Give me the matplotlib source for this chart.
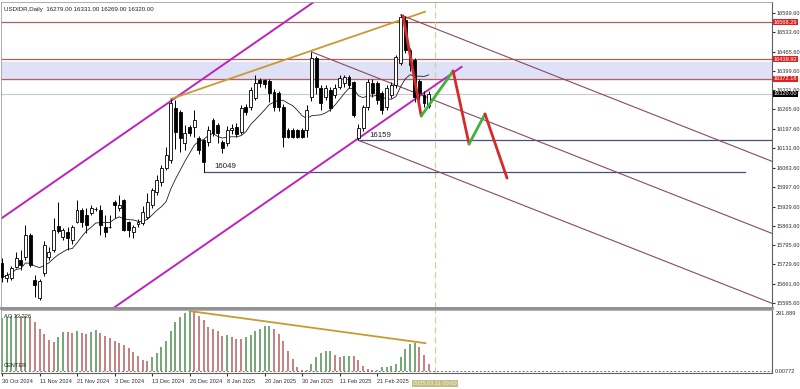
import numpy as np
import pandas as pd
import matplotlib
matplotlib.use("Agg")
import matplotlib.pyplot as plt
from matplotlib import font_manager

# --- Veriler (grafikten okunan yaklaşık değerler) ---
title = "USDIDR,Daily  16279.00 16331.00 16269.00 16320.00"

date_ticks = [0, 8, 16, 24, 32, 40, 48, 56, 64, 72, 80]
date_labels = ["30 Oct 2024", "11 Nov 2024", "21 Nov 2024", "3 Dec 2024", "13 Dec 2024",
               "26 Dec 2024", "8 Jan 2025", "20 Jan 2025", "30 Jan 2025", "11 Feb 2025",
               "21 Feb 2025"]
cursor_bar = 92.3
cursor_label = "2025.03.11 00:00"

opens = [15734, 15683, 15682, 15720, 15745, 15755, 15831, 15675, 15613, 15700,
         15755, 15779, 15862, 15824, 15841, 15814, 15876, 15918, 15900, 15907,
         15921, 15918, 15858, 15859, 15945, 15924, 15952, 15876, 15841, 15870,
         15872, 15893, 15935, 15980, 16014, 16063, 16091, 16271, 16257, 16150,
         16205, 16205, 16167, 16160, 16153, 16229, 16212, 16153, 16150, 16195,
         16205, 16188, 16274, 16274, 16305, 16368, 16368, 16365, 16326, 16322,
         16274, 16195, 16195, 16194, 16195, 16194, 16309, 16444, 16340, 16309,
         16333, 16315, 16343, 16357, 16378, 16360, 16167, 16201, 16274, 16357,
         16357, 16323, 16274, 16315, 16350, 16426, 16575, 16470, 16437, 16365,
         16316, 16279]
highs = [15751, 15703, 15723, 15772, 15780, 15865, 15838, 15692, 15680, 15810,
         15790, 15890, 15945, 15855, 15858, 15865, 15952, 15925, 15925, 15935,
         15928, 15935, 15900, 15900, 15952, 15970, 15955, 15880, 15865, 15885,
         15930, 15975, 15995, 16040, 16075, 16135, 16302, 16298, 16265, 16212,
         16212, 16265, 16175, 16165, 16210, 16235, 16220, 16160, 16210, 16215,
         16220, 16280, 16285, 16345, 16385, 16375, 16372, 16370, 16335, 16330,
         16285, 16200, 16200, 16199, 16200, 16280, 16465, 16450, 16350, 16350,
         16345, 16355, 16385, 16385, 16385, 16365, 16215, 16280, 16370, 16370,
         16365, 16330, 16350, 16360, 16455, 16595, 16590, 16480, 16445, 16372,
         16330, 16331]
lows = [15668, 15668, 15675, 15717, 15710, 15745, 15720, 15616, 15606, 15690,
        15745, 15772, 15838, 15815, 15779, 15800, 15872, 15860, 15838, 15900,
        15915, 15830, 15824, 15855, 15890, 15915, 15845, 15824, 15820, 15860,
        15865, 15885, 15925, 15970, 16000, 16055, 16080, 16130, 16118, 16125,
        16175, 16170, 16110, 16049, 16140, 16175, 16150, 16115, 16140, 16180,
        16170, 16180, 16245, 16265, 16300, 16345, 16340, 16290, 16260, 16260,
        16136, 16168, 16168, 16168, 16168, 16172, 16295, 16320, 16265, 16300,
        16260, 16305, 16335, 16345, 16340, 16240, 16159, 16190, 16265, 16310,
        16285, 16250, 16265, 16305, 16340, 16420, 16460, 16400, 16290, 16300,
        16275, 16269]
closes = [15686, 15693, 15717, 15751, 15727, 15831, 15727, 15658, 15672, 15796,
          15772, 15848, 15845, 15848, 15820, 15858, 15918, 15876, 15866, 15925,
          15920, 15866, 15841, 15857, 15935, 15935, 15848, 15848, 15858, 15876,
          15911, 15945, 15987, 16021, 16063, 16108, 16288, 16188, 16167, 16184,
          16184, 16229, 16125, 16084, 16194, 16184, 16184, 16132, 16194, 16202,
          16181, 16271, 16257, 16333, 16357, 16357, 16355, 16322, 16274, 16274,
          16170, 16172, 16172, 16172, 16172, 16264, 16444, 16343, 16288, 16340,
          16271, 16340, 16374, 16378, 16350, 16247, 16201, 16274, 16360, 16323,
          16298, 16264, 16340, 16350, 16447, 16586, 16472, 16420, 16309, 16323,
          16288, 16320]

ao_values = [258, 264, 269, 272, 265, 269, 264, 236, 204, 180,
             151, 139, 167, 188, 187, 186, 193, 183, 180, 188,
             199, 183, 168, 160, 147, 134, 128, 110, 91, 74,
             53, 47, 66, 86, 118, 144, 193, 236, 261, 282,
             291, 286, 269, 248, 215, 204, 192, 172, 174, 167,
             156, 154, 167, 177, 193, 204, 217, 219, 204, 180,
             147, 99, 58, 21, 5, 3, 34, 66, 86, 96,
             98, 79, 70, 72, 74, 73, 54, 26, 10, 5,
             3, 18, 21, 26, 34, 66, 107, 131, 134, 118,
             79, 33.226]

price_ticks = [16599.6, 16533.6, 16465.6, 16399.6, 16331.6, 16265.6, 16197.6, 16131.6,
               16063.6, 15997.6, 15929.6, 15863.6, 15795.6, 15729.6, 15661.6, 15595.6]

# seviyeler ve çizimler (bar indeksi, fiyat)
red_levels = [16568.29, 16439.92, 16372.18]
zone = (16372.18, 16430)
last_price = 16320.00
support_lows = [(43, 16049, 158.4), (76, 16159, 164.2)]   # (başlangıç bar, fiyat, bitiş bar)
channel_upper = [(0, 15890), (98, 16992)]
channel_lower = [(0, 15311), (98, 16413)]
gold_line = [(36, 16302), (90.2, 16604)]
down_slope = -6.4
down_anchors = [(66, 16465), (85, 16593), (76, 16159)]
zig_x = [85.5, 89.4, 96.2, 99.6, 103.0, 107.7]
zig_y = [16590, 16243, 16399, 16146, 16250, 16028]
ao_div = [(40, 291), (90.3, 135)]

# küçük yazılar için dar font (yoksa Liberation Sans)
installed = {f.name for f in font_manager.fontManager.ttflist}
if "Liberation Sans Narrow" in installed:
    plt.rcParams["font.family"] = ["Liberation Sans Narrow", "DejaVu Sans"]
    fs = 4.9
else:
    plt.rcParams["font.family"] = ["Liberation Sans", "DejaVu Sans"]
    fs = 4.1

# --- Figür ---
fig = plt.figure(figsize=(8, 3.89), dpi=100)
ax = fig.add_axes([1/800, 1 - 308/389, 771/800, 306/389])
ax2 = fig.add_axes([1/800, 1 - 373/389, 771/800, 63/389])

xmin, xmax = -0.21, 164.2
n = len(closes)
idx = np.arange(n)
o = np.array(opens); c = np.array(closes)
h = np.array(highs); l = np.array(lows)

# bölge ve yatay çizgiler
ax.axhspan(zone[0], zone[1], color="#dfe1f6", zorder=0)
for lv in red_levels:
    ax.axhline(lv, color="#b06060", lw=0.9, zorder=1)
ax.axhline(last_price, color="#c8c8c8", lw=0.8, zorder=1)
for b0, p, b1 in support_lows:
    ax.plot([b0, b1], [p, p], color="#4a4a86", lw=0.9, zorder=2)
    ax.text(b0 + 2.3, p + 6, f"{p}", fontsize=fs + 1.6, color="#202020", va="bottom")

# kanal
for pts in (channel_upper, channel_lower):
    ax.plot([pts[0][0], pts[1][0]], [pts[0][1], pts[1][1]], color="#c020c0", lw=1.4, zorder=2)
ax.plot([gold_line[0][0], gold_line[1][0]], [gold_line[0][1], gold_line[1][1]],
        color="#c89a30", lw=1.3, zorder=2)
for b0, p in down_anchors:
    ax.plot([b0, xmax], [p, p + down_slope * (xmax - b0)], color="#8a4a5c", lw=0.8, zorder=2)

# mumlar
up = c >= o
ax.vlines(idx, l, h, color="black", lw=0.7, zorder=3)
body_lo = np.minimum(o, c)
body_h = np.maximum(np.abs(c - o), 1.5)
ax.bar(idx[up], body_h[up], bottom=body_lo[up], width=0.62, color="white",
       edgecolor="black", linewidth=0.6, zorder=4)
ax.bar(idx[~up], body_h[~up], bottom=body_lo[~up], width=0.62, color="black",
       edgecolor="black", linewidth=0.6, zorder=4)

# hareketli ortalama
ma = pd.Series(closes).rolling(10, min_periods=1).mean()
ax.plot(idx, ma, color="#202020", lw=0.6, zorder=3)

# zigzag projeksiyon
for i in range(len(zig_x) - 1):
    col = "#d42a2a" if zig_y[i + 1] < zig_y[i] else "#3cb43c"
    ax.plot(zig_x[i:i + 2], zig_y[i:i + 2], color=col, lw=2, zorder=5, solid_capstyle="round")

ax.axvline(cursor_bar, color="#cfcfa8", lw=0.9, ls=(0, (5, 3)), zorder=1)

ax.set_xlim(xmin, xmax)
ax.set_ylim(15578.3, 16637.7)
ax.yaxis.tick_right()
ax.set_yticks(price_ticks)
ax.set_yticklabels([f"{v:.2f}" for v in price_ticks])
ax.tick_params(axis="y", labelsize=fs, length=2, pad=1, colors="#303030")
ax.set_xticks([])
for s in ["left", "top"]:
    ax.spines[s].set_color("#a0a0a0")
    ax.spines[s].set_linewidth(0.6)
ax.spines["right"].set_color("#606060")
ax.spines["bottom"].set_color("#8c8c8c")
ax.spines["bottom"].set_linewidth(2)

ytr = ax.get_yaxis_transform()
for lv in red_levels:
    ax.text(1.002, lv, f"{lv:.2f}", transform=ytr, fontsize=fs, color="white", va="center",
            bbox=dict(boxstyle="square,pad=0.12", fc="#e02020", ec="none"), zorder=10)
ax.text(1.002, last_price, f"{last_price:.2f}", transform=ytr, fontsize=fs, color="white",
        va="center", bbox=dict(boxstyle="square,pad=0.12", fc="black", ec="none"), zorder=10)
ax.text(0.004, 0.985, title, transform=ax.transAxes, fontsize=fs + 0.3, va="top", color="#202020")

# --- AO paneli ---
ao = np.array(ao_values)
rising = np.concatenate([[True], ao[1:] >= ao[:-1]])
ax2.vlines(idx[rising], 0, ao[rising], color="#4e8e4e", lw=1.1)
ax2.vlines(idx[~rising], 0, ao[~rising], color="#b45e5e", lw=1.1)
ax2.axhline(0, color="#707070", lw=0.7, ls=(0, (2, 2)))
ax2.plot([ao_div[0][0], ao_div[1][0]], [ao_div[0][1], ao_div[1][1]], color="#c89a30", lw=1.3)
ax2.axvline(cursor_bar, color="#cfcfa8", lw=0.9, ls=(0, (5, 3)))
ax2.set_xlim(xmin, xmax)
ax2.set_ylim(-9.7, 296)
ax2.yaxis.tick_right()
ax2.set_yticks([291.889])
ax2.set_yticklabels(["291.889"])
ax2.tick_params(axis="y", labelsize=fs, length=0, pad=3, colors="#303030")
for lab in ax2.get_yticklabels():
    lab.set_va("top")
ax2.text(1.004, 0, "0.00772", transform=ax2.get_yaxis_transform(), fontsize=fs,
         va="center", color="#303030")
ax2.set_xticks(date_ticks)
ax2.set_xticklabels(date_labels)
ax2.tick_params(axis="x", labelsize=fs, length=2, pad=2, colors="#303030")
for lab in ax2.get_xticklabels():
    lab.set_ha("left")
ax2.text(cursor_bar - 4.6, -0.17, cursor_label, transform=ax2.get_xaxis_transform(),
         fontsize=fs, color="#f4f4dc", va="center",
         bbox=dict(boxstyle="square,pad=0.2", fc="#c4bd86", ec="none"))
ax2.text(0.004, 0.93, "AO 33.226", transform=ax2.transAxes, fontsize=fs, va="top", color="#202020")
ax2.text(0.004, 0.08, "CENTER", transform=ax2.transAxes, fontsize=fs, va="bottom", color="#202020")
for s in ["left", "top"]:
    ax2.spines[s].set_color("#a0a0a0")
    ax2.spines[s].set_linewidth(0.6)
ax2.spines["right"].set_color("#606060")
ax2.spines["bottom"].set_color("#606060")

fig.savefig("out.png", dpi=100, facecolor="white")
